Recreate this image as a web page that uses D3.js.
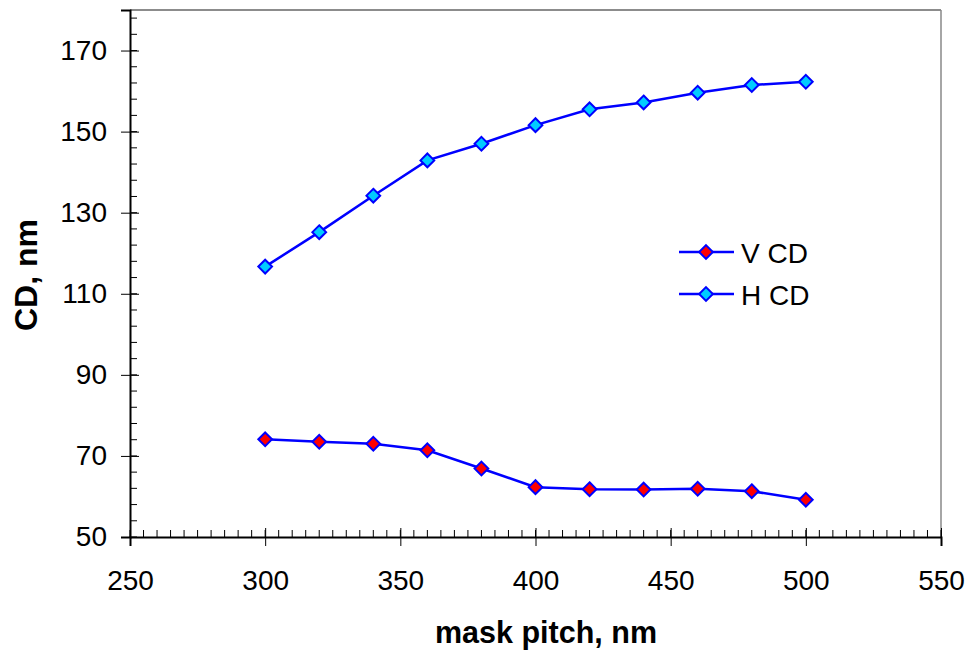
<!DOCTYPE html>
<html>
<head>
<meta charset="utf-8">
<script src="https://cdn.jsdelivr.net/npm/d3@7"></script>
<style>
  body { margin: 0; background: #fff; }
  text { font-family: "Liberation Sans", Arial, sans-serif; }
</style>
</head>
<body>
<script>
// data
var pitch = [300, 320, 340, 360, 380, 400, 420, 440, 460, 480, 500];
var vCD = [74.1, 73.5, 73.0, 71.4, 66.9, 62.3, 61.8, 61.7, 61.9, 61.3, 59.2];
var hCD = [116.7, 125.2, 134.2, 142.9, 147.0, 151.6, 155.5, 157.2, 159.6, 161.5, 162.3];
var xTicks = [250, 300, 350, 400, 450, 500, 550];
var yTicks = [50, 70, 90, 110, 130, 150, 170];
var seriesNames = ["V CD", "H CD"];
var seriesFill = ["#ff0000", "#00ccff"];

var svg_Width = 969;
var svg_Height = 657;
var margin = { top: 10, right: 28, bottom: 120, left: 130 };
var chart_Width = svg_Width - margin.left - margin.right;
var chart_Height = svg_Height - margin.top - margin.bottom;

var svg = d3.select("body").append("svg")
  .attr("width", svg_Width)
  .attr("height", svg_Height);

var chartGroup = svg.append("g")
  .attr("transform", `translate(${margin.left}, ${margin.top})`);

var x = d3.scaleLinear().domain([250, 550]).range([0, chart_Width]);
var y = d3.scaleLinear().domain([50, 180]).range([chart_Height, 0]);

// frame (top and right in grey)
chartGroup.append("line")
  .attr("x1", 0).attr("x2", chart_Width).attr("y1", 0).attr("y2", 0)
  .attr("stroke", "#666").attr("stroke-width", 1.5);
chartGroup.append("line")
  .attr("x1", chart_Width).attr("x2", chart_Width).attr("y1", 0).attr("y2", chart_Height)
  .attr("stroke", "#888").attr("stroke-width", 1.5);

// minor ticks, pointing inside
chartGroup.append("g")
  .selectAll("line")
  .data(d3.range(250, 551, 5))
  .enter().append("line")
  .attr("x1", d => x(d)).attr("x2", d => x(d))
  .attr("y1", chart_Height).attr("y2", chart_Height - 7)
  .attr("stroke", "#000").attr("stroke-width", 1);

chartGroup.append("g")
  .selectAll("line")
  .data(d3.range(50, 181, 4))
  .enter().append("line")
  .attr("x1", 0).attr("x2", 7)
  .attr("y1", d => y(d)).attr("y2", d => y(d))
  .attr("stroke", "#000").attr("stroke-width", 1);

// axes
var bottom_Axis = d3.axisBottom(x).tickValues(xTicks).tickSize(9).tickPadding(24);
var left_Axis = d3.axisLeft(y).tickValues(yTicks).tickSize(9).tickPadding(14);

var xg = chartGroup.append("g")
  .attr("transform", `translate(0, ${chart_Height})`)
  .call(bottom_Axis);
var yg = chartGroup.append("g").call(left_Axis);

[xg, yg].forEach(function(g) {
  g.select(".domain").attr("stroke", "#000").attr("stroke-width", 2);
  g.selectAll(".tick text").style("font-size", "28px").attr("fill", "#000");
  g.selectAll(".tick line").attr("stroke", "#000");
});
// major ticks cross the axis
xg.selectAll(".tick line").attr("y1", -9);
yg.selectAll(".tick line").attr("x1", 9);

// series
var series = [vCD, hCD];
var line = d3.line()
  .x((d, i) => x(pitch[i]))
  .y(d => y(d));

var diamond = d3.symbol().type(d3.symbolDiamond2).size(120);

series.forEach(function(vals, s) {
  chartGroup.append("path")
    .datum(vals)
    .attr("d", line)
    .attr("fill", "none")
    .attr("stroke", "#0000ff")
    .attr("stroke-width", 2.5);

  chartGroup.selectAll(".pt" + s)
    .data(vals)
    .enter().append("path")
    .attr("class", "pt" + s)
    .attr("transform", (d, i) => `translate(${x(pitch[i])}, ${y(d)})`)
    .attr("d", diamond)
    .attr("fill", seriesFill[s])
    .attr("stroke", "#0000ff")
    .attr("stroke-width", 2);
});

// legend
var legend = svg.append("g").attr("transform", "translate(679, 252)");
seriesNames.forEach(function(name, s) {
  var g = legend.append("g").attr("transform", `translate(0, ${s * 42})`);
  g.append("line").attr("x1", 0).attr("x2", 55).attr("y1", 0).attr("y2", 0)
    .attr("stroke", "#0000ff").attr("stroke-width", 2.5);
  g.append("path").attr("d", diamond).attr("transform", "translate(27,0)")
    .attr("fill", seriesFill[s]).attr("stroke", "#0000ff").attr("stroke-width", 2);
  g.append("text").attr("x", 62).attr("y", 10.5)
    .style("font-size", "28px").text(name);
});

// axis titles
svg.append("text")
  .attr("x", 546)
  .attr("y", 643)
  .attr("text-anchor", "middle")
  .style("font-size", "30.5px").style("font-weight", "bold")
  .text("mask pitch, nm");

svg.append("text")
  .attr("transform", `translate(37, 275) rotate(-90)`)
  .attr("text-anchor", "middle")
  .style("font-size", "32px").style("font-weight", "bold")
  .text("CD, nm");
</script>
</body>
</html>
